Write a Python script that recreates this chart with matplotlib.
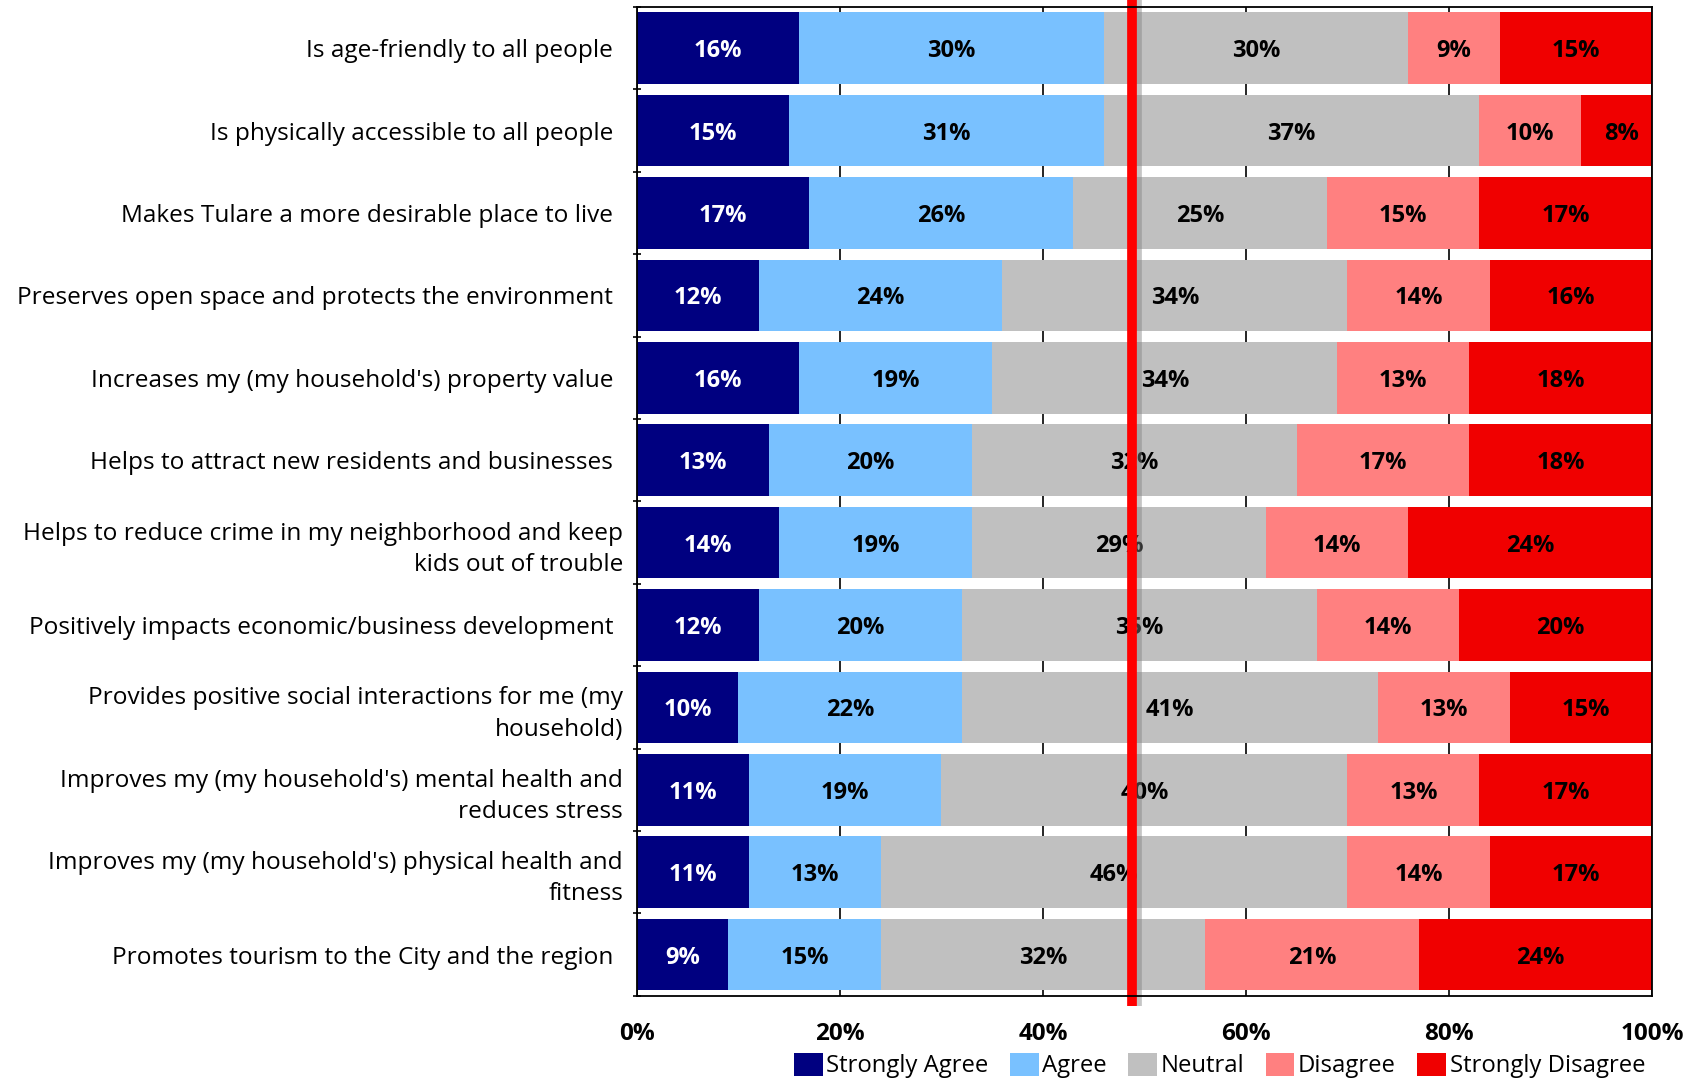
import numpy as np
import matplotlib
matplotlib.use("Agg")
import matplotlib.pyplot as plt

plt.rcParams['font.family'] = ['Open Sans', 'DejaVu Sans']

statements = [
    "Is age-friendly to all people",
    "Is physically accessible to all people",
    "Makes Tulare a more desirable place to live",
    "Preserves open space and protects the environment",
    "Increases my (my household's) property value",
    "Helps to attract new residents and businesses",
    "Helps to reduce crime in my neighborhood and keep\nkids out of trouble",
    "Positively impacts economic/business development",
    "Provides positive social interactions for me (my\nhousehold)",
    "Improves my (my household's) mental health and\nreduces stress",
    "Improves my (my household's) physical health and\nfitness",
    "Promotes tourism to the City and the region",
]

responses = ["Strongly Agree", "Agree", "Neutral", "Disagree", "Strongly Disagree"]

strongly_agree = [16, 15, 17, 12, 16, 13, 14, 12, 10, 11, 11, 9]
agree = [30, 31, 26, 24, 19, 20, 19, 20, 22, 19, 13, 15]
neutral = [30, 37, 25, 34, 34, 32, 29, 35, 41, 40, 46, 32]
disagree = [9, 10, 15, 14, 13, 17, 14, 14, 13, 13, 14, 21]
strongly_disagree = [15, 8, 17, 16, 18, 18, 24, 20, 15, 17, 17, 24]

# reference line drawn across the chart
marker_line = 48.8

colors = ["#000080", "#79C1FF", "#C0C0C0", "#FF8080", "#F00000"]
text_colors = ["white", "black", "black", "black", "black"]

series = [strongly_agree, agree, neutral, disagree, strongly_disagree]

fig = plt.figure(figsize=(16.89, 10.8), dpi=100)
ax = fig.add_axes([0.3771, 0.078, 0.6010, 0.9155])

y = np.arange(len(statements))
left = np.zeros(len(statements))
for vals, name, col, tcol in zip(series, responses, colors, text_colors):
    vals = np.array(vals, dtype=float)
    ax.barh(y, vals, left=left, height=0.87, color=col, label=name, zorder=2)
    for yi, v, l in zip(y, vals, left):
        ax.text(l + v / 2, yi, "{0}%".format(int(v)), ha="center",
                va="center_baseline", color=tcol, fontsize=17,
                fontweight="bold", zorder=3)
    left = left + vals

# red reference line with a soft shadow
ax.plot([marker_line + 0.45, marker_line + 0.45], [-0.62, 11.62], color="#808080",
        linewidth=7, alpha=0.45, zorder=4, clip_on=False, solid_capstyle="butt")
ax.plot([marker_line, marker_line], [-0.6, 11.62], color="#FF0000",
        linewidth=7, zorder=5, clip_on=False, solid_capstyle="butt")

ax.set_xlim(0, 100)
ax.set_ylim(len(statements) - 0.5, -0.5)
ax.set_xticks([0, 20, 40, 60, 80, 100])
ax.set_xticklabels(["0%", "20%", "40%", "60%", "80%", "100%"],
                   fontsize=17.5, fontweight="bold")
ax.tick_params(axis="x", length=0, pad=19)
ax.xaxis.grid(True, color="black", linewidth=1.2, zorder=0)
ax.set_axisbelow(True)

ax.set_yticks(y)
ax.set_yticklabels(statements, fontsize=17.6, linespacing=1.4)
ax.tick_params(axis="y", length=0)
for tick, lab in zip(ax.yaxis.get_major_ticks(), statements):
    if "\n" in lab:
        tick.set_pad(10)
    else:
        tick.set_pad(17)
ax.set_yticks(np.arange(-0.5, len(statements), 1), minor=True)
ax.tick_params(axis="y", which="minor", length=6, direction="inout", width=1.2)

for s in ax.spines.values():
    s.set_color("black")
    s.set_linewidth(1.3)
    s.set_zorder(6)

fig.legend(loc="center", bbox_to_anchor=(0.722, 0.0135), ncol=5, frameon=False,
           fontsize=17.2, handlelength=1.2, handleheight=1.1, handletextpad=0.15,
           columnspacing=0.9, borderaxespad=0)

plt.savefig("out.png", dpi=100)
